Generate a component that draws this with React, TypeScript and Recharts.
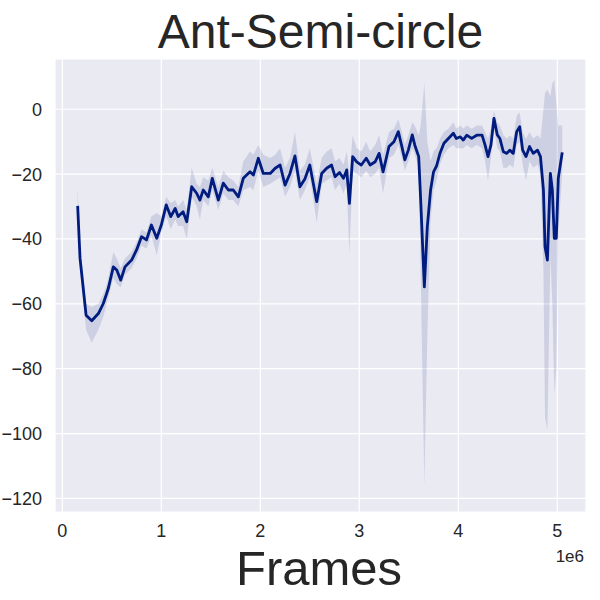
import React from "react";
import {
  ComposedChart, Line, Area, XAxis, YAxis, CartesianGrid,
} from "recharts";

// frames in units of 1e6
const frames = [
  0.155, 0.17, 0.179, 0.206, 0.24, 0.297, 0.364, 0.414, 0.448, 0.465,
  0.515, 0.55, 0.59, 0.633, 0.7, 0.75, 0.8, 0.85, 0.9, 0.954,
  1.0, 1.05, 1.095, 1.14, 1.17, 1.22, 1.257, 1.307, 1.357, 1.39,
  1.424, 1.475, 1.515, 1.576, 1.626, 1.677, 1.727, 1.778, 1.828, 1.896,
  1.93, 1.98, 2.03, 2.1, 2.15, 2.2, 2.25, 2.3, 2.35, 2.4,
  2.45, 2.5, 2.57, 2.62, 2.67, 2.72, 2.755, 2.8, 2.84, 2.873,
  2.9, 2.933, 2.974, 3.02, 3.07, 3.11, 3.16, 3.2, 3.24, 3.3,
  3.35, 3.394, 3.43, 3.46, 3.495, 3.535, 3.56, 3.6, 3.62, 3.657,
  3.687, 3.72, 3.75, 3.78, 3.815, 3.855, 3.9, 3.95, 3.98, 4.02,
  4.05, 4.085, 4.135, 4.186, 4.24, 4.27, 4.3, 4.33, 4.36, 4.394,
  4.42, 4.455, 4.49, 4.52, 4.555, 4.59, 4.62, 4.65, 4.684, 4.72,
  4.757, 4.8, 4.83, 4.86, 4.876, 4.9, 4.93, 4.95, 4.97, 4.99,
  5.01, 5.05,
];

const meanReturn = [
  -29.8, -40, -46, -53.7, -63.5, -65.2, -63, -59.9, -56.8, -55.2,
  -48.6, -49.6, -52.7, -48.6, -46.5, -43.4, -39.3, -40.3, -35.7, -39.8,
  -35.7, -29.5, -33.1, -30.6, -33.1, -31.6, -34.7, -23.9, -25.9, -28,
  -24.9, -27, -21.3, -28, -22.8, -24.9, -24.9, -27, -21.3, -19.3,
  -20.3, -15.1, -19.8, -19.8, -18.2, -17.2, -23.4, -19.8, -14.4, -23.9,
  -21.5, -17.2, -28.5, -19.8, -18.2, -17.2, -20.8, -19.5, -21.3, -18.7,
  -29, -14.6, -16.2, -17.2, -15.1, -17.2, -16.2, -13.6, -19.3, -11.5,
  -10, -6.9, -11.5, -15.6, -12.6, -7.9, -11, -14.6, -28, -54.8,
  -36.2, -24.9, -19.3, -17.5, -13.6, -10.5, -9, -7.4, -9, -8.5,
  -9.5, -8, -9, -8, -8, -11, -14.6, -11, -2.8, -7.9,
  -9, -13.1, -13.6, -12.6, -13.6, -6.9, -5.4, -12.6, -14.6, -11.5,
  -13.6, -12.6, -14.6, -24.9, -42.4, -46.5, -19.8, -24.9, -39.8, -39.8,
  -21.3, -13.3,
];

const upperBand = [
  -24, -36, -42, -50, -60, -61, -60, -57, -54, -52,
  -44, -46, -49, -46, -44, -41, -37, -38, -33, -32,
  -33, -27, -29, -28, -30, -28, -31, -18, -23, -24,
  -21, -22, -18, -24, -19, -21, -22, -24, -16, -13,
  -14, -11, -14, -15, -14, -12, -18, -15, -7, -19,
  -17, -12, -23, -15, -13, -12, -16, -15, -17, -13,
  -20, -8, -12, -13, -10, -13, -11, -8, -14, -7,
  -6, -3, -7, -11, -8, -4, -5, -8, -5, 8,
  -10, -16, -13, -12, -9, -7, -6, -4, -6, -5,
  -6, -5, -6, -5, -5, -7, -9, -6, -0.5, -4,
  -5, -8, -9, -8, -9, -2, -1, -7, -9, -7,
  -9, -8, -9, 0, 5, 6, 4, 8, 9, 2,
  -5, -5,
];

const lowerBand = [
  -32, -44, -50, -58, -68, -72, -68, -64, -60, -58,
  -52, -54, -55, -51, -49, -46, -42, -43, -39, -45,
  -38, -33, -37, -34, -36, -36, -40, -27, -30, -34,
  -28, -30, -25, -31, -26, -28, -28, -30, -25, -24,
  -25, -19, -24, -23, -22, -21, -27, -24, -19, -28,
  -25, -21, -35, -23, -22, -21, -25, -23, -26, -23,
  -45, -19, -20, -21, -19, -21, -20, -18, -26, -15,
  -14, -11, -15, -19, -16, -12, -14, -18, -50, -116,
  -70, -34, -25, -22, -17, -14, -12, -11, -12, -12,
  -12, -11, -12, -11, -12, -16, -22, -15, -6, -12,
  -13, -18, -18, -17, -18, -11, -10, -17, -22, -16,
  -18, -17, -20, -50, -95, -99, -45, -60, -88, -80,
  -38, -20,
];

const xTicks = [0, 1, 2, 3, 4, 5];
const yTicks = [-120, -100, -80, -60, -40, -20, 0];

const data = frames.map((x, i) => ({
  x,
  mean: meanReturn[i],
  band: [lowerBand[i], upperBand[i]],
}));

const FONT = '"Liberation Sans", Arial, sans-serif';
const TEXT = "#262626";
const BLUE = "#001C7F";

export default function App() {
  return (
    <div style={{ position: "absolute", left: 0, top: 0, width: 600, height: 600, background: "#fff" }}>
      <ComposedChart
        width={600}
        height={600}
        data={data}
        margin={{ top: 59, right: 14, left: 0, bottom: 0 }}
        style={{ fontFamily: FONT }}
      >
        <CartesianGrid fill="#EAEAF2" stroke="#fff" strokeWidth={1.2} />
        <XAxis
          dataKey="x"
          type="number"
          domain={[-0.074, 5.29]}
          ticks={xTicks}
          allowDataOverflow
          height={88}
          axisLine={false}
          tickLine={false}
          tickSize={0}
          tickMargin={12}
          tick={{ fill: TEXT, fontSize: 18 }}
        />
        <YAxis
          type="number"
          domain={[-124.2, 15.5]}
          ticks={yTicks}
          allowDataOverflow
          width={55}
          axisLine={false}
          tickLine={false}
          tickSize={0}
          tickMargin={13}
          tick={{ fill: TEXT, fontSize: 18 }}
          tickFormatter={(v: number) => String(v).replace("-", "\u2212")}
        />
        <Area
          dataKey="band"
          type="linear"
          stroke="none"
          fill={BLUE}
          fillOpacity={0.12}
          isAnimationActive={false}
        />
        <Line
          dataKey="mean"
          type="linear"
          stroke={BLUE}
          strokeWidth={2.8}
          strokeLinejoin="round"
          dot={false}
          isAnimationActive={false}
        />
      </ComposedChart>
      <svg
        width={600}
        height={600}
        style={{ position: "absolute", left: 0, top: 0, pointerEvents: "none", fontFamily: FONT }}
      >
        <text x={320.5} y={47.7} textAnchor="middle" fontSize={48} fill={TEXT}>Ant-Semi-circle</text>
        <text x={319} y={585} textAnchor="middle" fontSize={49} fill={TEXT}>Frames</text>
        <text x={584} y={561.5} textAnchor="end" fontSize={17} fill={TEXT}>1e6</text>
      </svg>
    </div>
  );
}
